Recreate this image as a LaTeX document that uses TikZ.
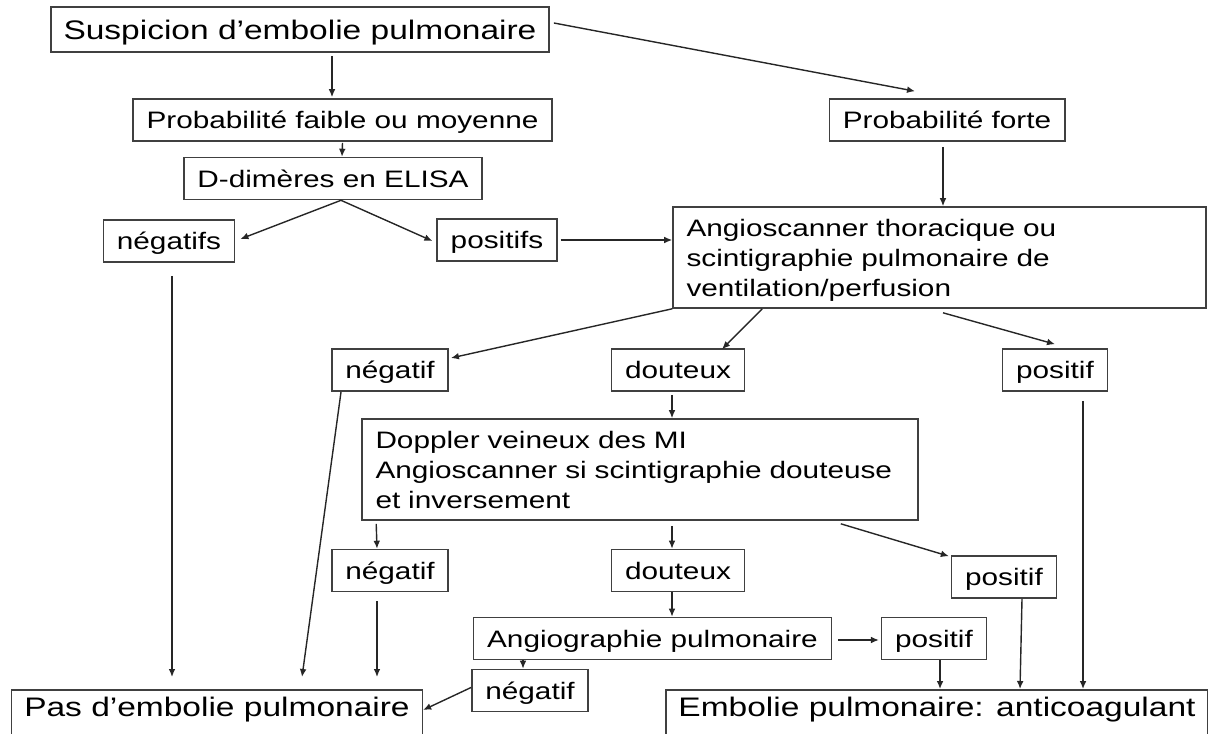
\documentclass[tikz,border=0pt]{standalone}
\usepackage{fontspec}
\setmainfont{Liberation Sans}[FakeStretch=1.25]
\usetikzlibrary{arrows.meta,calc}

\begin{document}
\begin{tikzpicture}[x=0.5pt,y=-0.5pt,
	>={Latex[length=4pt,width=3.4pt]},
	boite/.style={draw=black!75,line width=0.8pt,inner xsep=6.75pt,inner ysep=0pt,minimum height=21pt,text height=8.5pt,text depth=0pt,font=\fontsize{11.9}{15}\selectfont},
	grande/.style={boite,inner xsep=6.3pt,minimum height=22.5pt,text height=9.6pt,font=\fontsize{13.4}{16}\selectfont},
	bloc/.style={boite,align=left,text width=#1,minimum height=50.5pt,text depth=30pt},
	fleche/.style={->,draw=black!85,line width=0.7pt}]
				\useasboundingbox (0,0) rectangle (1208,733);
				\clip (0,0) rectangle (1208,733);
				% Boîtes
				\node[grande] (susp) at (300,29.5) {Suspicion d’embolie pulmonaire};
				\node[boite] (pfaible) at (342.5,120) {Probabilité faible ou moyenne};
				\node[boite] (pforte) at (947,120) {Probabilité forte};
				\node[boite] (ddim) at (333,178.5) {D-dimères en ELISA};
				\node[boite] (negs) at (169,241) {négatifs};
				\node[boite] (poss) at (497,240) {positifs};
				\node[bloc=253pt] (angio) at (939.5,257.5) {Angioscanner thoracique ou\\scintigraphie pulmonaire de\\ventilation/perfusion};
				\node[boite] (neg1) at (390,370) {négatif};
				\node[boite] (dout1) at (678,370) {douteux};
				\node[boite] (pos1) at (1055,370) {positif};
				\node[bloc=264.5pt] (doppler) at (640,469.5) {Doppler veineux des MI\\Angioscanner si scintigraphie douteuse\\et inversement};
				\node[boite] (neg2) at (390,570.5) {négatif};
				\node[boite] (dout2) at (678,570.5) {douteux};
				\node[boite] (pos2) at (1004,577) {positif};
				\node[boite] (angiog) at (652.5,638.5) {Angiographie pulmonaire};
				\node[boite] (pos3) at (934,638.5) {positif};
				\node[boite] (neg3) at (530,690.5) {négatif};
				\node[grande,anchor=north,inner ysep=3.5pt,text depth=20pt] (pasemb) at (217,689) {Pas d’embolie pulmonaire};
				\node[grande,anchor=north,inner ysep=3.5pt,text depth=20pt] (embol) at (937,689) {Embolie pulmonaire: anticoagulant};
				% Flèches
				\draw[fleche] ($(susp.south)+(32,3)$) -- ($(pfaible.north)+(-10.5,-1)$);
				\draw[fleche] ($(pfaible.south)+(0,1)$) -- ($(ddim.north)+(9,0)$);
				\draw[fleche] ($(susp.east)+(4,-6.5)$) -- ($(pforte.north)+(-32,-7)$);
				\draw[fleche] ($(pforte.south)+(-4,5)$) -- ($(angio.north)+(3.5,0)$);
				\draw[fleche] ($(ddim.south)+(8,0)$) -- ($(negs.east)+(5,-2)$);
				\draw[fleche] ($(ddim.south)+(8,0)$) -- ($(poss.west)+(-4,1)$);
				\draw[fleche] ($(poss.east)+(3,0)$) -- (poss.east -| angio.west);
				\draw[fleche] (angio.south west) -- ($(neg1.east)+(2,-12)$);
				\draw[fleche] ($(angio.south west)+(90,0)$) -- ($(dout1.north)+(44,1)$);
				\draw[fleche] ($(angio.south)+(3.5,4)$) -- ($(pos1.north)+(0,-4)$);
				\draw[fleche] ($(dout1.south)+(-6,3)$) -- ($(doppler.north)+(32,0)$);
				\draw[fleche] ($(negs.south)+(3,13)$) -- ($(pasemb.north)+(-45,-12)$);
				\draw[fleche] ($(neg1.south west)+(10,0)$) -- ($(pasemb.north)+(85,-12)$);
				\draw[fleche] ($(doppler.south west)+(15,3)$) -- ($(neg2.north)+(-13,0)$);
				\draw[fleche] ($(neg2.south)+(-13,9)$) -- ($(pasemb.north)+(160,-12)$);
				\draw[fleche] ($(doppler.south)+(32,5)$) -- ($(dout2.north)+(-6,0)$);
				\draw[fleche] ($(dout2.south)+(-6,0)$) -- ($(angiog.north)+(19.5,0)$);
				\draw[fleche] ($(angiog.south)+(-129.5,0)$) -- ($(neg3.north)+(-7,0)$);
				\draw[fleche] ($(neg3.west)+(0,-3)$) -- ($(pasemb.north east)+(0,21)$);
				\draw[fleche] ($(angiog.east)+(6,1.5)$) -- ($(pos3.west)+(-2,1.5)$);
				\draw[fleche] ($(doppler.south east)+(-78,3)$) -- ($(pos2.north west)+(-2,1)$);
				\draw[fleche] ($(pos3.south)+(6,0)$) -- ($(embol.north)+(3,0)$);
				\draw[fleche] ($(pos2.south)+(18,0)$) -- ($(embol.north)+(83,0)$);
				\draw[fleche] ($(pos1.south)+(28,9)$) -- ($(embol.north)+(146,0)$);
\end{tikzpicture}
\end{document}
